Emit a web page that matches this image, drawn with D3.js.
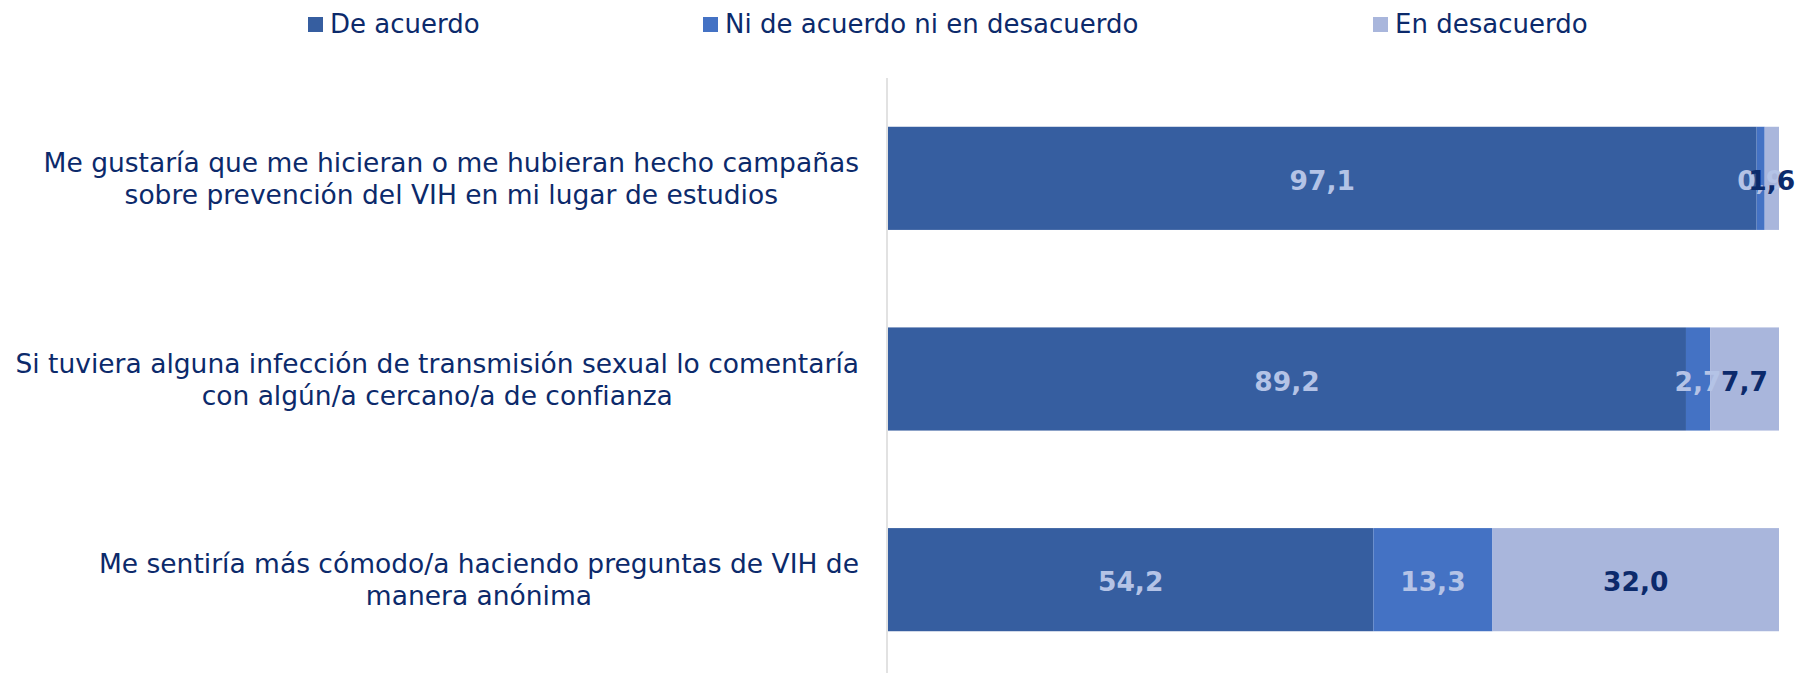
<!DOCTYPE html>
<html lang="es">
<head>
<meta charset="UTF-8">
<title>VIH</title>
<style>
    body{ margin:0; background:#fff; }
    svg{ display:block; font-family:"DejaVu Sans", Verdana, sans-serif; }
</style>
</head>
<body>
<div id="chart"></div>
<script src="https://cdn.jsdelivr.net/npm/d3@7/dist/d3.min.js"></script>
<script>
    var width = 1799, height = 673;

    var categories = [
        ["Me gustaría que me hicieran o me hubieran hecho campañas", "sobre prevención del VIH en mi lugar de estudios"],
        ["Si tuviera alguna infección de transmisión sexual lo comentaría", "con algún/a cercano/a de confianza"],
        ["Me sentiría más cómodo/a haciendo preguntas de VIH de", "manera anónima"]
    ];
    var seriesNames = ["De acuerdo", "Ni de acuerdo ni en desacuerdo", "En desacuerdo"];
    var deAcuerdo = [97.1, 89.2, 54.2];
    var niNi = [0.9, 2.7, 13.3];
    var enDesacuerdo = [1.6, 7.7, 32.0];

    var colors = ["#365ea0", "#4472c4", "#a9b6dc"];
    var labelColors = ["#b4c3e6", "#b4c3e6", "#0c2a6b"];
    var navy = "#0c2a6b";

    var fmt = d3.formatLocale({decimal: ",", thousands: ".", grouping: [3], currency: ["", "€"]}).format(".1f");

    var svg = d3.select('#chart').append('svg')
        .attr('width', width).attr('height', height);

    // rows built from the arrays, each normalized to 100%
    var rows = categories.map(function(c, i){
        var vals = [deAcuerdo[i], niNi[i], enDesacuerdo[i]];
        var total = d3.sum(vals);
        var acc = 0;
        var segs = vals.map(function(v, k){
            var s = {row: i, k: k, value: v, x0: acc / total * 100, x1: (acc + v) / total * 100};
            acc += v;
            return s;
        });
        return {label: c, segs: segs};
    });

    var xScale = d3.scaleLinear().domain([0, 100]).range([888, 1779]);
    var yScale = d3.scaleBand().domain(d3.range(categories.length))
        .range([78, 680]).paddingInner(0.486).paddingOuter(0.243);

    // bars
    var segs = d3.merge(rows.map(function(r){ return r.segs; }));
    svg.selectAll('.seg').data(segs).enter().append('rect')
        .attr('class', 'seg')
        .attr('x', function(d){ return xScale(d.x0); })
        .attr('y', function(d){ return yScale(d.row); })
        .attr('width', function(d){ return xScale(d.x1) - xScale(d.x0); })
        .attr('height', yScale.bandwidth())
        .attr('fill', function(d){ return colors[d.k]; });

    // axis line
    svg.append('line')
        .attr('x1', 887).attr('x2', 887)
        .attr('y1', 78).attr('y2', height)
        .attr('stroke', '#d9d9d9').attr('stroke-width', 1.5);

    // value labels
    svg.selectAll('.val').data(segs).enter().append('text')
        .attr('class', 'val')
        .attr('x', function(d){ return (xScale(d.x0) + xScale(d.x1)) / 2; })
        .attr('y', function(d){ return yScale(d.row) + yScale.bandwidth() / 2 + 2; })
        .attr('dy', '0.36em')
        .attr('text-anchor', 'middle')
        .attr('font-size', '26.5px')
        .attr('font-weight', 'bold')
        .attr('fill', function(d){ return labelColors[d.k]; })
        .text(function(d){ return fmt(d.value); });

    // category labels: block right-aligned, lines centered
    var blockRight = 859;
    rows.forEach(function(r, i){
        var g = svg.append('g');
        var cy = yScale(i) + yScale.bandwidth() / 2;
        var lines = g.selectAll('text').data(r.label).enter().append('text')
            .attr('font-size', '26.5px')
            .attr('fill', navy)
            .attr('text-anchor', 'middle')
            .attr('y', function(d, j){ return cy + (j - (r.label.length - 1) / 2) * 32; })
            .attr('dy', '0.36em')
            .text(function(d){ return d; });
        var w = d3.max(lines.nodes(), function(n){ return n.getComputedTextLength(); });
        lines.attr('x', blockRight - w / 2);
    });

    // legend
    var legendX = [308, 703, 1373];
    var legend = svg.selectAll('.leg').data(seriesNames).enter().append('g')
        .attr('class', 'leg')
        .attr('transform', function(d, i){ return 'translate(' + legendX[i] + ',0)'; });
    legend.append('rect')
        .attr('x', 0).attr('y', 17).attr('width', 15).attr('height', 15)
        .attr('fill', function(d, i){ return colors[i]; });
    legend.append('text')
        .attr('x', 22).attr('y', 24).attr('dy', '0.36em')
        .attr('font-size', '26px')
        .attr('fill', navy)
        .text(function(d){ return d; });
</script>
</body>
</html>
